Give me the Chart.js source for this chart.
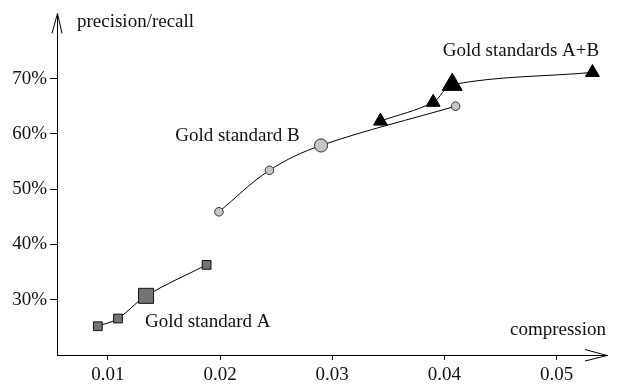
<!DOCTYPE html>
<html>
<head>
<meta charset="utf-8">
<script src="https://cdn.jsdelivr.net/npm/chart.js@4/dist/chart.umd.min.js"></script>
<style>
  body { margin: 0; background: #fff; }
  canvas { display: block; }
</style>
</head>
<body>
<canvas id="chart" width="622" height="388"></canvas>
<script>
// Datos (compresión vs precisión/recall)
const goldA_x = [0.0091, 0.0109, 0.0134, 0.0188];
const goldA_y = [25.2, 26.6, 30.7, 36.3];
const goldB_x = [0.0199, 0.0244, 0.0290, 0.0410];
const goldB_y = [45.9, 53.4, 57.9, 65.0];
const goldAB_x = [0.0343, 0.0390, 0.0407, 0.0532];
const goldAB_y = [62.3, 65.7, 68.9, 71.1];

const xTicks = [0.01, 0.02, 0.03, 0.04, 0.05];
const yTicks = [30, 40, 50, 60, 70];

const xTitle = 'compression';
const yTitle = 'precision/recall';

// Etiquetas de las series, ancladas en coordenadas de datos
const seriesLabels = [
  { text: 'Gold standard A', x: 0.0133, y: 25.9, align: 'left' },
  { text: 'Gold standard B', x: 0.0160, y: 59.6, align: 'left' },
  { text: 'Gold standards A+B', x: 0.0538, y: 75.0, align: 'right' }
];

const FONT = 'Liberation Serif';

function toPoints(xs, ys) {
  return xs.map((x, i) => ({ x: x, y: ys[i] }));
}

// Dibuja flechas de los ejes, títulos y etiquetas
const decorPlugin = {
  id: 'decor',
  afterDraw(chart) {
    const ctx = chart.ctx;
    const area = chart.chartArea;
    const xs = chart.scales.x;
    const ys = chart.scales.y;
    ctx.save();
    ctx.strokeStyle = '#000';
    ctx.lineWidth = 1;

    // flecha eje y
    ctx.beginPath();
    ctx.moveTo(area.left - 5, area.top + 19);
    ctx.lineTo(area.left + 0.5, area.top - 1);
    ctx.lineTo(area.left + 5, area.top + 19);
    ctx.stroke();

    // flecha eje x
    ctx.beginPath();
    ctx.moveTo(area.right - 22, area.bottom - 5.5);
    ctx.lineTo(area.right, area.bottom + 0.5);
    ctx.lineTo(area.right - 22, area.bottom + 6);
    ctx.stroke();

    ctx.fillStyle = '#111';
    ctx.font = '19px "' + FONT + '"';
    ctx.textBaseline = 'middle';

    ctx.textAlign = 'left';
    ctx.fillText(yTitle, area.left + 20, area.top + 8);
    ctx.textAlign = 'right';
    ctx.fillText(xTitle, area.right - 1, area.bottom - 25);

    seriesLabels.forEach(function(l) {
      ctx.textAlign = l.align;
      ctx.fillText(l.text, xs.getPixelForValue(l.x), ys.getPixelForValue(l.y));
    });
    ctx.restore();
  }
};

new Chart(document.getElementById('chart'), {
  type: 'scatter',
  data: {
    datasets: [
      {
        label: 'Gold standard A',
        data: toPoints(goldA_x, goldA_y),
        showLine: true,
        tension: 0.35,
        borderColor: '#000',
        borderWidth: 1,
        pointStyle: 'rect',
        pointRadius: [6.2, 6.2, 10.6, 6.2],
        pointBackgroundColor: '#737373',
        pointBorderColor: '#111',
        pointBorderWidth: 1,
        clip: false
      },
      {
        label: 'Gold standard B',
        data: toPoints(goldB_x, goldB_y),
        showLine: true,
        tension: 0.35,
        borderColor: '#000',
        borderWidth: 1,
        pointStyle: 'circle',
        pointRadius: [4.3, 4.3, 6.6, 4.3],
        pointBackgroundColor: '#c4c4c4',
        pointBorderColor: '#333',
        pointBorderWidth: 1,
        clip: false
      },
      {
        label: 'Gold standards A+B',
        data: toPoints(goldAB_x, goldAB_y),
        showLine: true,
        tension: 0.35,
        borderColor: '#000',
        borderWidth: 1,
        pointStyle: 'triangle',
        pointRadius: [8, 8, 11.5, 8],
        pointBackgroundColor: '#000',
        pointBorderColor: '#000',
        pointBorderWidth: 1,
        clip: false
      }
    ]
  },
  options: {
    responsive: false,
    animation: false,
    layout: { padding: { top: 10, right: 15, left: 0, bottom: 0 } },
    plugins: {
      legend: { display: false },
      tooltip: { enabled: false }
    },
    scales: {
      x: {
        type: 'linear',
        min: 0.00546,
        max: 0.0545,
        afterBuildTicks: function(scale) {
          scale.ticks = xTicks.map(v => ({ value: v }));
        },
        afterFit: function(scale) { scale.height = 33; },
        ticks: {
          autoSkip: false,
          maxRotation: 0,
          padding: 4,
          color: '#111',
          font: { family: FONT, size: 19 },
          callback: v => v.toFixed(2)
        },
        grid: { drawOnChartArea: false, drawTicks: true, tickLength: 5, color: '#000' },
        border: { display: true, color: '#000', width: 1 }
      },
      y: {
        type: 'linear',
        min: 20,
        max: 81.6,
        afterBuildTicks: function(scale) {
          scale.ticks = yTicks.map(v => ({ value: v }));
        },
        afterFit: function(scale) { scale.width = 57; },
        ticks: {
          autoSkip: false,
          padding: 3,
          color: '#111',
          font: { family: FONT, size: 19 },
          callback: v => v + '%'
        },
        grid: { drawOnChartArea: false, drawTicks: true, tickLength: 7, color: '#000' },
        border: { display: true, color: '#000', width: 1 }
      }
    }
  },
  plugins: [decorPlugin]
});
</script>
</body>
</html>
